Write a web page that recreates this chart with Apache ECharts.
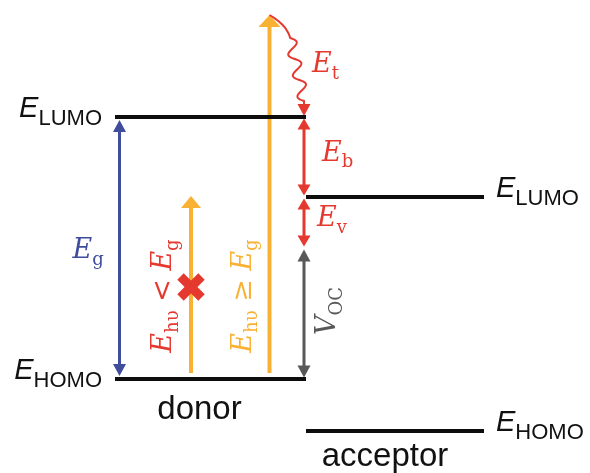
<!DOCTYPE html>
<html>
<head>
<meta charset="utf-8">
<title>Donor–acceptor energy levels</title>
<script src="https://cdn.jsdelivr.net/npm/echarts@6.0.0/dist/echarts.min.js"></script>
<style>
  html, body { margin: 0; padding: 0; background: #ffffff; }
  #chart { width: 590px; height: 473px; }
</style>
</head>
<body>
<div id="chart"></div>
<script>
// ---- Frontier orbital energies (eV) ----
const materials = ['donor', 'acceptor'];
const levelNames = ['LUMO', 'HOMO'];
const lumoEnergy = [-3.17, -3.97];
const homoEnergy = [-5.79, -6.31];
// upper edge of the open-circuit voltage window
const vocTopEnergy = -4.48;

// ---- Photon excitation (eV) ----
const photonBaseEnergy = -5.73;
const photonTopEnergy = [-3.96, -2.15];
const photonRelation = ['<', '≥'];
// the sub-gap photon is stopped here
const photonBlockedEnergy = -4.87;

// ---- Energy differences drawn as double arrows ----
const gapSymbols = [['E', 'g'], ['E', 'b'], ['E', 'v'], ['V', 'OC']];
const gapUpper = [lumoEnergy[0], lumoEnergy[0], lumoEnergy[1], vocTopEnergy];
const gapLower = [homoEnergy[0], lumoEnergy[1], vocTopEnergy, homoEnergy[0]];

// ---- Styling / layout ----
const RED = '#E5392F', ORANGE = '#F9B134', BLUE = '#404D9C', GRAY = '#58585A', BLACK = '#0d0d0d';
const SERIF = '"DejaVu Serif"';
const SANS = '"Liberation Sans"';

const LEVEL_SPAN = [[115, 306], [306, 484]];
const NAME_OFFSET = [{ dx: -11, dy: 31 }, { dx: -10, dy: 26 }];
const GAP_STYLE = [
  { x: 119.5, color: BLUE, hw: 13, hl: 12, inset: 3, label: { dx: -47, dy: 3, rotate: false } },
  { x: 304, color: RED, hw: 13, hl: 11, inset: 1.5, label: { dx: 18, dy: -3.5, rotate: false } },
  { x: 304, color: RED, hw: 13, hl: 11, inset: 1.5, label: { dx: 13, dy: -3.5, rotate: false } },
  { x: 304, color: GRAY, hw: 13, hl: 12, inset: 1.5, label: { dx: 24, dy: -2.5, rotate: true } }
];
const PHOTON_X = [191, 269.5];
const PHOTON_HEAD = [20, 22];
const PHOTON_LABEL = [{ dx: -27, color: RED }, { dx: -26, color: ORANGE }];

function mathRich(color, size, subSize, drop) {
  return {
    e: { fontFamily: SERIF, fontStyle: 'italic', fontSize: size, fill: color },
    s: { fontFamily: SERIF, fontSize: subSize, fill: color, padding: [drop * 2, 0, 0, 0] },
    o: { fontFamily: SERIF, fontSize: size, fill: color }
  };
}
const levelRich = {
  e: { fontFamily: SANS, fontStyle: 'italic', fontSize: 29, fill: '#111' },
  s: { fontFamily: SANS, fontSize: 22, fill: '#111', padding: [19, 0, 0, 0] }
};

function vArrow(x, yTop, yBot, color, lw, hw, hl, headTop, headBot) {
  const parts = [];
  const s1 = headTop ? yTop + hl - 0.5 : yTop;
  const s2 = headBot ? yBot - hl + 0.5 : yBot;
  parts.push({ type: 'line', shape: { x1: x, y1: s1, x2: x, y2: s2 }, style: { stroke: color, lineWidth: lw } });
  if (headTop) parts.push({ type: 'polygon', shape: { points: [[x, yTop], [x + hw / 2, yTop + hl], [x - hw / 2, yTop + hl]] }, style: { fill: color } });
  if (headBot) parts.push({ type: 'polygon', shape: { points: [[x, yBot], [x + hw / 2, yBot - hl], [x - hw / 2, yBot - hl]] }, style: { fill: color } });
  return parts;
}

const levelData = [];
materials.forEach((m, i) => {
  levelData.push([i, lumoEnergy[i], 0]);
  levelData.push([i, homoEnergy[i], 1]);
});
const gapData = gapUpper.map((u, i) => [i, u, gapLower[i]]);
const photonData = photonTopEnergy.map((t, i) => [i, photonBaseEnergy, t]);

const chart = echarts.init(document.getElementById('chart'), null, { renderer: 'canvas' });

chart.setOption({
  animation: false,
  backgroundColor: '#ffffff',
  grid: { left: 0, right: 0, top: 0, bottom: 0 },
  xAxis: { type: 'value', min: 0, max: 590, show: false },
  yAxis: { type: 'value', min: -6.73, max: -2.0, show: false },
  series: [
    // photon arrows (drawn first so the level lines sit on top)
    {
      type: 'custom', coordinateSystem: 'cartesian2d', clip: false, silent: true, z: 2,
      data: photonData,
      renderItem(params, api) {
        const i = api.value(0);
        const base = api.coord([PHOTON_X[i], api.value(1)]);
        const top = api.coord([PHOTON_X[i], api.value(2)]);
        const children = vArrow(base[0], top[1], base[1], ORANGE, 4, PHOTON_HEAD[i], 12, true, false);
        const lab = PHOTON_LABEL[i];
        children.push({
          type: 'text', x: base[0] + lab.dx, y: base[1] - 77, rotation: Math.PI / 2,
          style: {
            text: '{e|E}{s|hυ}{o| ' + photonRelation[i] + ' }{e|E}{s|g}',
            rich: mathRich(lab.color, 27, 18, 9), fill: lab.color,
            align: 'center', verticalAlign: 'middle'
          }
        });
        return { type: 'group', children };
      }
    },
    // blocked sub-gap photon
    {
      type: 'custom', coordinateSystem: 'cartesian2d', clip: false, silent: true, z: 3,
      data: [[photonBlockedEnergy]],
      renderItem(params, api) {
        const c = api.coord([PHOTON_X[0], api.value(0)]);
        const r = 10.5;
        return {
          type: 'group', x: c[0], y: c[1],
          children: [
            { type: 'line', shape: { x1: -r, y1: -r, x2: r, y2: r }, style: { stroke: RED, lineWidth: 9 } },
            { type: 'line', shape: { x1: -r, y1: r, x2: r, y2: -r }, style: { stroke: RED, lineWidth: 9 } }
          ]
        };
      }
    },
    // thermalisation of the hot exciton down to the donor LUMO
    {
      type: 'custom', coordinateSystem: 'cartesian2d', clip: false, silent: true, z: 3,
      data: [[photonTopEnergy[1], lumoEnergy[0]]],
      renderItem(params, api) {
        const start = api.coord([PHOTON_X[1], api.value(0)]);
        const end = api.coord([GAP_STYLE[1].x, api.value(1)]);
        const hl = 12, hw = 13;
        const tipY = end[1] - 1;
        const waveStart = [start[0] + 0.6 * (end[0] - start[0]), start[1] + 23];
        const waveEnd = [end[0], tipY - hl - 3];
        const ctrl = [start[0] + 0.5 * (end[0] - start[0]), start[1] + 10];
        const pts = [];
        for (let k = 0; k <= 16; k++) {
          const t = k / 16, u = 1 - t;
          pts.push([u * u * start[0] + 2 * u * t * ctrl[0] + t * t * waveStart[0],
                    u * u * start[1] + 2 * u * t * ctrl[1] + t * t * waveStart[1]]);
        }
        const dx = waveEnd[0] - waveStart[0], dy = waveEnd[1] - waveStart[1];
        const len = Math.hypot(dx, dy), nx = dy / len, ny = -dx / len;
        for (let k = 1; k <= 150; k++) {
          const t = k / 150, o = 5.5 * Math.sin(2 * Math.PI * 3 * t);
          pts.push([waveStart[0] + dx * t + nx * o, waveStart[1] + dy * t + ny * o]);
        }
        pts.push([end[0], tipY - hl + 1]);
        return {
          type: 'group',
          children: [
            { type: 'polyline', shape: { points: pts }, style: { stroke: RED, lineWidth: 2, fill: null } },
            { type: 'polygon', shape: { points: [[end[0], tipY], [end[0] + hw / 2, tipY - hl], [end[0] - hw / 2, tipY - hl]] }, style: { fill: RED } },
            {
              type: 'text', x: end[0] + 8, y: start[1] + 50,
              style: { text: '{e|E}{s|t}', rich: mathRich(RED, 27, 18, 9), fill: RED, align: 'left', verticalAlign: 'middle' }
            }
          ]
        };
      }
    },
    // energy level lines, their names and the material names
    {
      type: 'custom', coordinateSystem: 'cartesian2d', clip: false, silent: true, z: 5,
      data: levelData,
      renderItem(params, api) {
        const m = api.value(0), E = api.value(1), k = api.value(2);
        const span = LEVEL_SPAN[m];
        const p1 = api.coord([span[0], E]);
        const p2 = api.coord([span[1], E]);
        const children = [
          { type: 'line', shape: { x1: p1[0], y1: p1[1], x2: p2[0], y2: p2[1] }, style: { stroke: BLACK, lineWidth: 4 } }
        ];
        const left = m === 0;
        children.push({
          type: 'text', x: left ? p1[0] - 13 : p2[0] + 12, y: p1[1] - 8,
          style: {
            text: '{e|E}{s|' + levelNames[k] + '}', rich: levelRich, fill: '#111',
            align: left ? 'right' : 'left', verticalAlign: 'middle'
          }
        });
        if (k === 1) {
          const off = NAME_OFFSET[m];
          children.push({
            type: 'text', x: (p1[0] + p2[0]) / 2 + off.dx, y: p1[1] + off.dy,
            style: { text: materials[m], fontFamily: SANS, fontSize: 33, fill: '#111', align: 'center', verticalAlign: 'middle' }
          });
        }
        return { type: 'group', children };
      }
    },
    // double arrows for the energy differences
    {
      type: 'custom', coordinateSystem: 'cartesian2d', clip: false, silent: true, z: 4,
      data: gapData,
      renderItem(params, api) {
        const i = api.value(0);
        const g = GAP_STYLE[i];
        const top = api.coord([g.x, api.value(1)]);
        const bot = api.coord([g.x, api.value(2)]);
        const children = vArrow(top[0], top[1] + g.inset, bot[1] - g.inset, g.color, 3, g.hw, g.hl, true, true);
        const midY = (top[1] + bot[1]) / 2;
        const sym = gapSymbols[i];
        children.push({
          type: 'text', x: top[0] + g.label.dx, y: midY + g.label.dy,
          rotation: g.label.rotate ? Math.PI / 2 : 0,
          style: {
            text: '{e|' + sym[0] + '}{s|' + sym[1] + '}', rich: mathRich(g.color, 27, 18, 9), fill: g.color,
            align: g.label.rotate ? 'center' : 'left', verticalAlign: 'middle'
          }
        });
        return { type: 'group', children };
      }
    }
  ]
});
</script>
</body>
</html>
